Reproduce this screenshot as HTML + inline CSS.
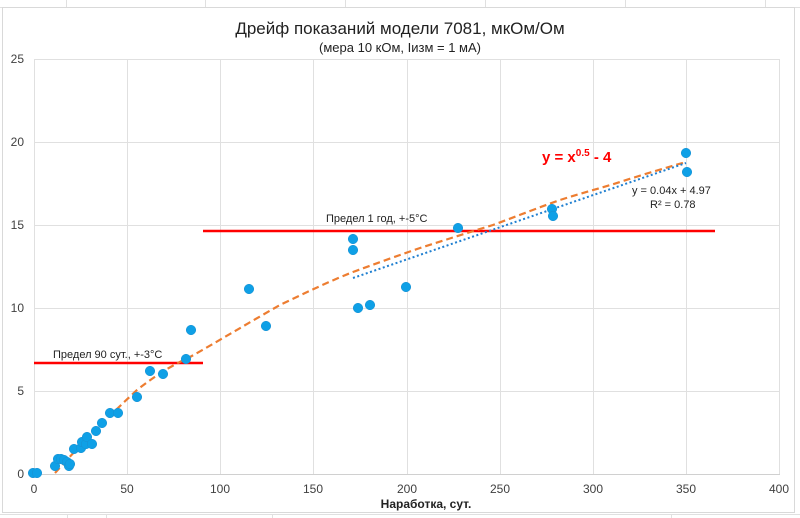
<!DOCTYPE html>
<html><head><meta charset="utf-8"><style>
body{margin:0;background:#fff;}
svg{display:block;font-family:"Liberation Sans",sans-serif;}
</style></head><body>
<svg width="800" height="518" viewBox="0 0 800 518" xmlns="http://www.w3.org/2000/svg">
<rect width="800" height="518" fill="#fff"/>
<g stroke="#e0e0e0">
<line x1="0" y1="7.5" x2="800" y2="7.5"/>
<line x1="0" y1="514.5" x2="800" y2="514.5"/>
<line x1="66.5" y1="0" x2="66.5" y2="7"/><line x1="106.5" y1="514" x2="106.5" y2="518"/>
<line x1="205.5" y1="0" x2="205.5" y2="7"/><line x1="345.5" y1="0" x2="345.5" y2="7"/>
<line x1="485.5" y1="0" x2="485.5" y2="7"/><line x1="625.5" y1="0" x2="625.5" y2="7"/>
<line x1="765.5" y1="0" x2="765.5" y2="7"/>
<line x1="67.5" y1="514" x2="67.5" y2="518"/><line x1="272.5" y1="514" x2="272.5" y2="518"/>
<line x1="671.5" y1="514" x2="671.5" y2="518"/>
</g>
<rect x="2.5" y="7.5" width="792" height="505" fill="#fff" stroke="#d9d9d9"/>
<g stroke="#e0e0e0" stroke-width="1">
<line x1="34" y1="59.5" x2="780" y2="59.5"/>
<line x1="34" y1="142.5" x2="780" y2="142.5"/>
<line x1="34" y1="225.5" x2="780" y2="225.5"/>
<line x1="34" y1="308.5" x2="780" y2="308.5"/>
<line x1="34" y1="391.5" x2="780" y2="391.5"/>
<line x1="34.5" y1="59" x2="34.5" y2="474"/>
<line x1="127.5" y1="59" x2="127.5" y2="474"/>
<line x1="220.5" y1="59" x2="220.5" y2="474"/>
<line x1="313.5" y1="59" x2="313.5" y2="474"/>
<line x1="407.5" y1="59" x2="407.5" y2="474"/>
<line x1="500.5" y1="59" x2="500.5" y2="474"/>
<line x1="593.5" y1="59" x2="593.5" y2="474"/>
<line x1="686.5" y1="59" x2="686.5" y2="474"/>
<line x1="779.5" y1="59" x2="779.5" y2="474"/>
</g>
<line x1="34" y1="474.5" x2="780" y2="474.5" stroke="#d0d0d0"/>
<g font-size="12" fill="#404040" text-anchor="end">
<text x="24" y="478">0</text><text x="24" y="395">5</text><text x="24" y="312">10</text>
<text x="24" y="229">15</text><text x="24" y="146">20</text><text x="24" y="63">25</text>
</g>
<g font-size="12" fill="#404040" text-anchor="middle">
<text x="34" y="493">0</text><text x="127" y="493">50</text><text x="220" y="493">100</text>
<text x="313" y="493">150</text><text x="407" y="493">200</text><text x="500" y="493">250</text>
<text x="593" y="493">300</text><text x="686" y="493">350</text><text x="779" y="493">400</text>
</g>
<text x="426" y="508" font-size="12" font-weight="bold" text-anchor="middle" fill="#222">Наработка, сут.</text>
<text x="400" y="34" font-size="17" text-anchor="middle" fill="#222">Дрейф показаний модели 7081, мкОм/Ом</text>
<text x="400" y="52" font-size="13" text-anchor="middle" fill="#222">(мера 10 кОм, Iизм = 1 мА)</text>
<line x1="34" y1="363" x2="203" y2="363" stroke="#ff0000" stroke-width="2.5"/>
<line x1="203" y1="231" x2="715" y2="231" stroke="#ff0000" stroke-width="2.5"/>
<text x="53" y="358" font-size="11" fill="#222">Предел 90 сут., +-3°C</text>
<text x="326" y="222" font-size="11" fill="#222">Предел 1 год, +-5°C</text>
<path d="M55,473 C80,445 110,415 137,390 C160,372 175,364 190,357 C215,343 250,322 280,305 C305,293 330,281 353,272 C380,262 400,255 420,248 C445,240 470,232 493,225 C520,215 540,207 560,200 C585,192 605,187 620,182 C645,174 665,168 686,162" fill="none" stroke="#ed7d31" stroke-width="2.2" stroke-dasharray="7,4"/>
<line x1="353" y1="278" x2="686" y2="163" stroke="#1f7fd0" stroke-width="2" stroke-dasharray="2,2.5"/>
<g fill="#0fa0e6" stroke="#1a8fd0" stroke-width="0.5">
<circle cx="33" cy="473" r="4.8"/><circle cx="37" cy="473" r="4.8"/><circle cx="55" cy="466" r="4.8"/>
<circle cx="58" cy="459" r="4.8"/><circle cx="61" cy="459" r="4.8"/><circle cx="64" cy="460" r="4.8"/>
<circle cx="67" cy="462" r="4.8"/><circle cx="69" cy="466" r="4.8"/><circle cx="70" cy="464" r="4.8"/>
<circle cx="74" cy="449" r="4.8"/><circle cx="81" cy="448" r="4.8"/><circle cx="82" cy="442" r="4.8"/>
<circle cx="86" cy="444" r="4.8"/><circle cx="87" cy="437" r="4.8"/><circle cx="92" cy="444" r="4.8"/>
<circle cx="96" cy="431" r="4.8"/><circle cx="102" cy="423" r="4.8"/><circle cx="110" cy="413" r="4.8"/>
<circle cx="118" cy="413" r="4.8"/><circle cx="137" cy="397" r="4.8"/><circle cx="150" cy="371" r="4.8"/>
<circle cx="163" cy="374" r="4.8"/><circle cx="186" cy="359" r="4.8"/><circle cx="191" cy="330" r="4.8"/>
<circle cx="249" cy="289" r="4.8"/><circle cx="266" cy="326" r="4.8"/><circle cx="353" cy="239" r="4.8"/>
<circle cx="353" cy="250" r="4.8"/><circle cx="358" cy="308" r="4.8"/><circle cx="370" cy="305" r="4.8"/>
<circle cx="406" cy="287" r="4.8"/><circle cx="458" cy="228" r="4.8"/><circle cx="552" cy="209" r="4.8"/>
<circle cx="553" cy="216" r="4.8"/><circle cx="686" cy="153" r="4.8"/><circle cx="687" cy="172" r="4.8"/>
</g>
<text x="542" y="162" font-size="15" font-weight="bold" fill="#ff0000">y = x<tspan font-size="10" dy="-6">0.5</tspan><tspan dy="6"> - 4</tspan></text>
<text x="632" y="194" font-size="11" fill="#222">y = 0.04x + 4.97</text>
<text x="650" y="208" font-size="11" fill="#222">R² = 0.78</text>
</svg>
</body></html>
